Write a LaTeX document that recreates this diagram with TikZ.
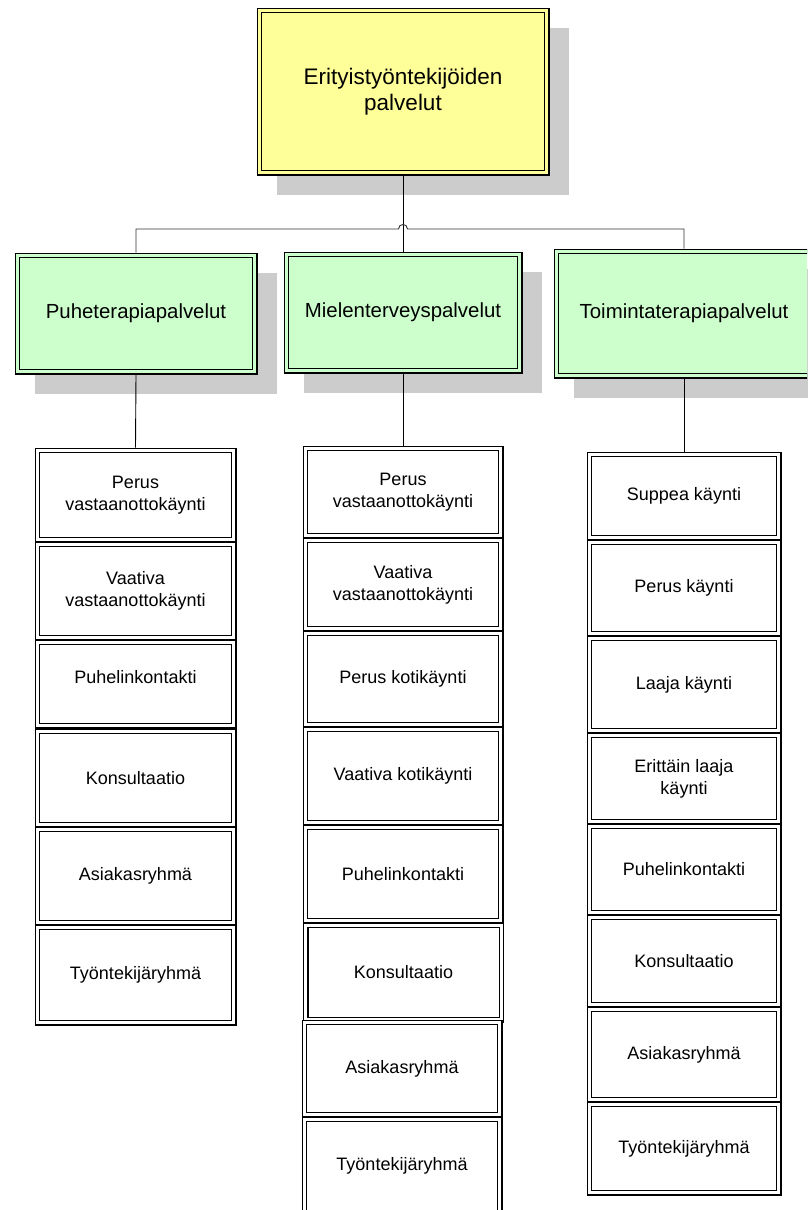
\documentclass[tikz,border=0pt]{standalone}
\usepackage{fontspec}
\setmainfont{Liberation Sans}
\usetikzlibrary{backgrounds}
\definecolor{yellowfill}{HTML}{FFFF99}
\definecolor{greenfill}{HTML}{CCFFCC}
\definecolor{shadowgray}{HTML}{CCCCCC}
\tikzset{
  basebox/.style={rectangle, draw=black, line width=1.1pt, double distance=3.3pt,
    inner sep=0pt, outer sep=2.75pt, align=center, text=black},
  topbox/.style={basebox, fill=yellowfill, double=yellowfill, font=\fontsize{22.5}{26.5}\selectfont},
  catbox/.style={basebox, fill=greenfill, double=greenfill, font=\fontsize{20.4}{24}\selectfont},
  itembox/.style={basebox, fill=white, double=white, font=\fontsize{18}{22}\selectfont},
  link/.style={draw=black, line width=0.9pt},
  buslink/.style={draw=black!80, line width=0.9pt},
  shadowfill/.style={fill=shadowgray},
}
\begin{document}
\begin{tikzpicture}[x=1pt,y=-1pt]
\useasboundingbox (0,0) rectangle (807,1210);
\clip (0,0) rectangle (807,1210);

% top
\node[topbox, minimum width=287.5pt, minimum height=162.5pt] (top) at (403,91.5) {Erityistyöntekijöiden\\palvelut};

% categories
\node[catbox, minimum width=237.5pt, minimum height=116.5pt] (Lcat) at (136,313.5) {Puheterapiapalvelut};
\node[catbox, minimum width=233.5pt, minimum height=116.5pt] (Mcat) at (403,312.5) {Mielenterveyspalvelut};
\node[catbox, minimum width=255.5pt, minimum height=124.5pt] (Rcat) at (684,313.5) {Toimintaterapiapalvelut};

% left column
\node[itembox, minimum width=196.5pt, minimum height=89.5pt] (L1) at (135.5,495) {Perus\\vastaanottokäynti};
\node[itembox, minimum width=196.5pt, minimum height=93.5pt] (L2) at (135.5,591) {Vaativa\\vastaanottokäynti};
\node[itembox, minimum width=196.5pt, minimum height=83.5pt] (L3) at (135.5,684) {\raisebox{14pt}{Puhelinkontakti}};
\node[itembox, minimum width=196.5pt, minimum height=93.5pt] (L4) at (135.5,778) {Konsultaatio};
\node[itembox, minimum width=196.5pt, minimum height=93.5pt] (L5) at (135.5,876) {Asiakasryhmä};
\node[itembox, minimum width=196.5pt, minimum height=95.5pt] (L6) at (135.5,975) {Työntekijäryhmä};

% middle column
\node[itembox, minimum width=195.5pt, minimum height=87.5pt] (M1) at (403,492) {Perus\\vastaanottokäynti};
\node[itembox, minimum width=195.5pt, minimum height=88.5pt] (M2) at (403,584.5) {Vaativa\\vastaanottokäynti};
\node[itembox, minimum width=195.5pt, minimum height=91.5pt] (M3) at (403,679) {Perus kotikäynti};
\node[itembox, minimum width=195.5pt, minimum height=93.5pt] (M4) at (403,776) {Vaativa kotikäynti};
\node[itembox, minimum width=195.5pt, minimum height=93.5pt] (M5) at (403,874) {Puhelinkontakti};
\node[itembox, minimum width=195.5pt, minimum height=94.5pt] (M6) at (403.5,972.5) {Konsultaatio};
\node[itembox, minimum width=195.5pt, minimum height=92.5pt] (M7) at (402,1068.5) {Asiakasryhmä};
\node[itembox, minimum width=195.5pt, minimum height=93.5pt] (M8) at (402,1166) {Työntekijäryhmä};

% right column
\node[itembox, minimum width=189.5pt, minimum height=83.5pt] (R1) at (684,496) {Suppea käynti};
\node[itembox, minimum width=189.5pt, minimum height=91.5pt] (R2) at (684,588) {Perus käynti};
\node[itembox, minimum width=189.5pt, minimum height=92.5pt] (R3) at (684,684.5) {Laaja käynti};
\node[itembox, minimum width=189.5pt, minimum height=86.5pt] (R4) at (684,778.5) {Erittäin laaja\\käynti};
\node[itembox, minimum width=189.5pt, minimum height=86.5pt] (R5) at (684,869.5) {Puhelinkontakti};
\node[itembox, minimum width=189.5pt, minimum height=87.5pt] (R6) at (684,961) {Konsultaatio};
\node[itembox, minimum width=189.5pt, minimum height=90.5pt] (R7) at (684,1054.5) {Asiakasryhmä};
\node[itembox, minimum width=189.5pt, minimum height=88.5pt] (R8) at (684,1148.5) {Työntekijäryhmä};

% shadows
\begin{scope}[on background layer]
  \foreach \n in {top,Lcat,Mcat,Rcat}{
    \fill[shadowfill] ([shift={(20,20)}]\n.north west) rectangle ([shift={(19.5,19.5)}]\n.south east);
  }
\end{scope}

% connectors
\coordinate (hopL) at (398.5,229);
\coordinate (hopR) at (407.5,229);
\draw[link] (top.south) -- (Mcat.north);
\draw[buslink] (Lcat.north) |- (hopL) .. controls (398.5,223) and (407.5,223) .. (hopR) -| (Rcat.north);
\draw[link] (Lcat.south) -- (L1.north);
\draw[link] (Mcat.south) -- (M1.north);
\draw[link] (Rcat.south) -- (R1.north);
\end{tikzpicture}
\end{document}
